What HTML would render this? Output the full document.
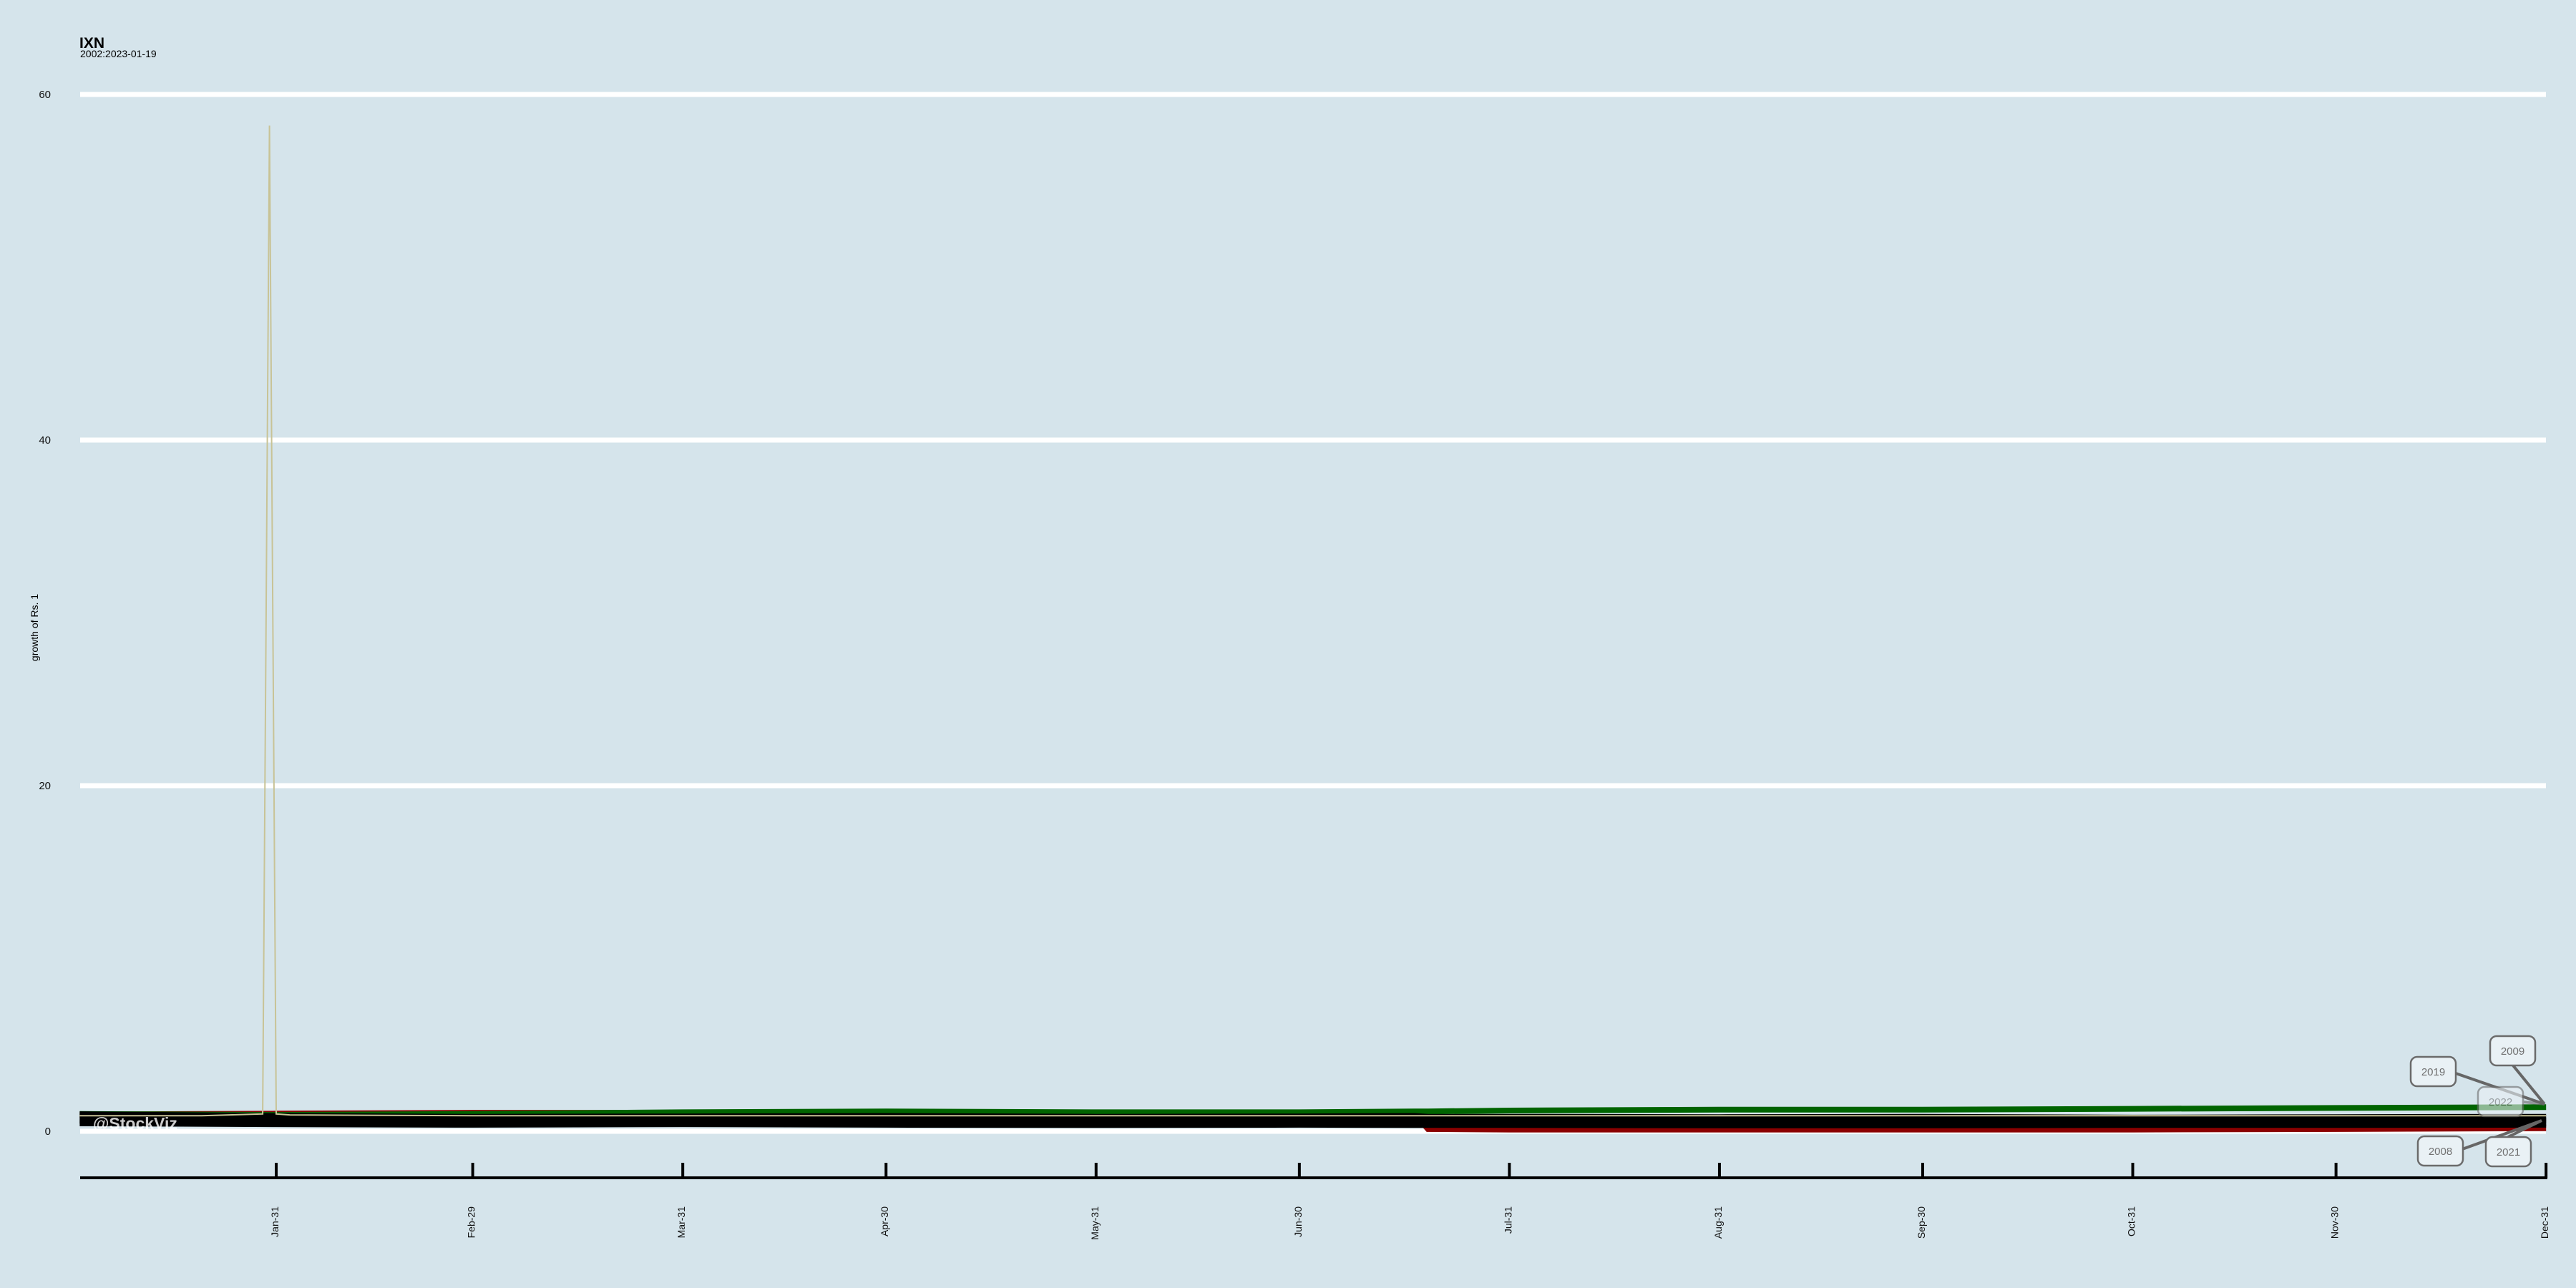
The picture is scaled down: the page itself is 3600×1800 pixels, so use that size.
<!DOCTYPE html>
<html><head><meta charset="utf-8"><style>
html,body{margin:0;padding:0;background:#d5e4eb;}
svg{display:block;font-family:"Liberation Sans",sans-serif;}
</style></head><body>
<svg id="chart" width="3600" height="1800" viewBox="0 0 3600 1800">
<rect x="0" y="0" width="3600" height="1800" fill="#d5e4eb"/>
<text x="111" y="67" font-size="21" font-weight="bold" fill="#000">IXN</text>
<text x="112" y="80" font-size="14" fill="#000">2002:2023-01-19</text>
<text transform="translate(53,877) rotate(-90)" text-anchor="middle" font-size="14" fill="#000">growth of Rs. 1</text>
<g id="grid"></g>
<g id="series"></g>
<text x="130" y="1578" font-size="23" font-weight="bold" fill="#ffffff" fill-opacity="0.8" font-family="Liberation Sans Narrow, Liberation Sans, sans-serif">@StockViz</text>
<g id="xaxis"></g>
<g id="labels"></g>
</svg>
<script>
const yTicks=[0,20,40,60];
const monthLabels=["Jan-31","Feb-29","Mar-31","Apr-30","May-31","Jun-30","Jul-31","Aug-31","Sep-30","Oct-31","Nov-30","Dec-31"];
const monthDays=[31,60,91,121,152,182,213,244,274,305,335,366];
const days=[2,31,60,91,121,152,182,199,201,213,244,274,305,335,366];
const blackA=[0.95,0.85,0.8,0.82,0.85,0.8,0.82,0.85,0.8,0.8,0.78,0.8,0.75,0.78,0.8];
const blackB=[0.7,0.62,0.6,0.62,0.6,0.58,0.6,0.55,0.55,0.52,0.55,0.5,0.5,0.52,0.55];
const blackC=[0.5,0.45,0.42,0.45,0.42,0.4,0.42,0.4,0.4,0.4,0.38,0.38,0.4,0.4,0.42];
const greenS=[1.0,0.95,1.0,1.1,1.15,1.1,1.1,1.15,1.15,1.2,1.25,1.25,1.3,1.35,1.4];
const redS=[0.95,1.0,1.05,1.05,1.0,1.0,1.05,1.05,0.15,0.12,0.12,0.12,0.12,0.15,0.2];
const grayS=[0.6,0.6,0.62,0.65,0.6,0.62,0.6,0.62,0.62,0.6,0.6,0.62,0.6,0.62,0.65];
const spikeDays=[2,20,29,30,31,33,60,120,200,300,366];
const spikeVals=[0.9,0.9,1.0,58.2,1.0,0.95,0.9,0.9,0.9,0.9,0.9];
const ns="http://www.w3.org/2000/svg";
const X=d=>92.5+(d)*9.469;
const Y=v=>1581-v*24.15;
function mk(t,a,p){const e=document.createElementNS(ns,t);for(const k in a)e.setAttribute(k,a[k]);p.appendChild(e);return e;}
const grid=document.getElementById('grid');
yTicks.forEach(v=>{
  const l=mk('line',{x1:112,x2:3558,y1:Y(v),y2:Y(v),stroke:'#fff','stroke-width':7},grid);
  
  
  const t=mk('text',{x:71,y:Y(v)+5,'text-anchor':'end','font-size':15,fill:'#111'},grid);
  t.textContent=v;
  
  
});
const sg=document.getElementById('series');
function line(xs,vs,color,w,name){
  const d=xs.map((x,i)=>(i?'L':'M')+X(x).toFixed(1)+','+Y(vs[i]).toFixed(1)).join(' ');
  const p=mk('path',{d:d,fill:'none',stroke:color,'stroke-width':w,'stroke-linejoin':'miter'},sg);
  
  
}
line(days,redS,'#8b0000',9,'series-red');
line(days,greenS,'#006400',8,'series-green');
line(days,grayS,'#5a5a50',8,'series-gray');
line(days,blackC,'#000',10,'series-black-c');
line(days,blackB,'#000',12,'series-black-b');
line(days,blackA,'#000',10,'series-black-a');
line(spikeDays,spikeVals,'#c8c396',2,'series-spike');
const xa=document.getElementById('xaxis');
const ax=mk('line',{x1:112,x2:3560,y1:1646,y2:1646,stroke:'#000','stroke-width':4},xa);


monthDays.forEach((d,i)=>{
  const x=X(d);
  const tk=mk('line',{x1:x,x2:x,y1:1625,y2:1646,stroke:'#000','stroke-width':4},xa);
  
  
  const t=mk('text',{transform:'translate('+(x+3)+',1686) rotate(-90)','text-anchor':'end','font-size':14,fill:'#111'},xa);
  t.textContent=monthLabels[i];
  
  
});
const labelYears=["2009","2019","2022","2008","2021"];
const lg=document.getElementById('labels');
const boxes=[[3480,1448,3512,1489,3556,1543,1],[3369,1477,3432,1500,3556,1543,1],[3463,1519,3526,1540,3556,1543,0.6],[3379,1588,3441,1606,3552,1566,1],[3474,1589,3505,1589,3552,1566,1]];
boxes.forEach((b,i)=>{
  const g=mk('g',{opacity:b[6]},lg);
  
  
  mk('line',{x1:b[2],y1:b[3],x2:b[4],y2:b[5],stroke:'#666','stroke-width':4},g);
  mk('rect',{x:b[0],y:b[1],width:63,height:41,rx:9,fill:'#e9f1f5',stroke:'#6b6b6b','stroke-width':2.5},g);
  const t=mk('text',{x:b[0]+31.5,y:b[1]+26,'text-anchor':'middle','font-size':15,fill:'#707070'},g);
  t.textContent=labelYears[i];
});
</script>
</body></html>
